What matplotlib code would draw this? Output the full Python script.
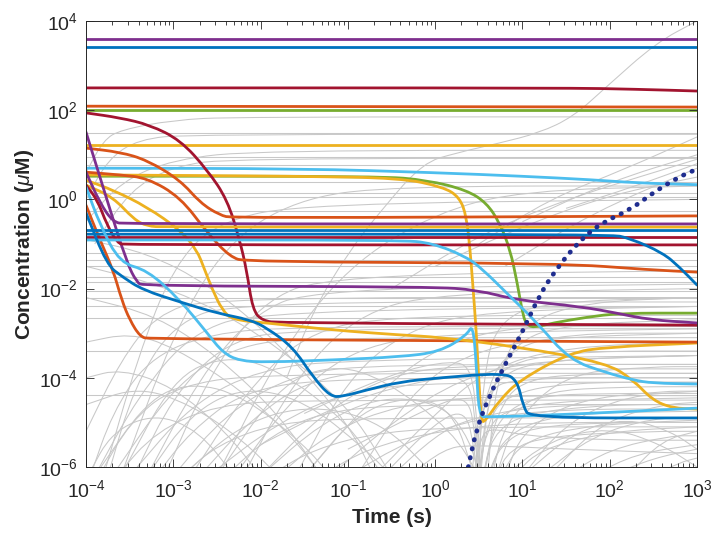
import matplotlib
matplotlib.use('Agg')
import matplotlib.pyplot as plt
import numpy as np
from matplotlib.path import Path
from matplotlib.patches import PathPatch

plt.rcParams['font.family'] = ['Liberation Sans', 'DejaVu Sans']
plt.rcParams['mathtext.fontset'] = 'custom'
plt.rcParams['mathtext.rm'] = 'Liberation Sans'
plt.rcParams['mathtext.it'] = 'Liberation Sans:italic'
plt.rcParams['mathtext.bf'] = 'Liberation Sans:bold'

# MATLAB default line colours
BLUE = '#0072BD'
ORANGE = '#D95319'
YELLOW = '#EDB120'
PURPLE = '#7E2F8E'
GREEN = '#77AC30'
LBLUE = '#4DBEEE'
DRED = '#A2142F'
GRAY = '#c8c8c8'
NAVY = '#1f2d8f'

# ---- highlighted species: (log10 t, log10 c) ----
purple_top = [(-4, 3.60), (3, 3.60)]
blue_top = [(-4, 3.42), (3, 3.42)]
dred_top = [(-4, 2.50), (1.5, 2.50), (2.3, 2.47), (3, 2.43)]
orange_top = [(-4, 2.09), (3, 2.07)]
green_top = [(-4, 2.00), (3, 2.00)]
yellow_top = [(-4, 1.22), (3, 1.22)]
lblue_hi = [(-4, 0.70), (-1.5, 0.69), (0, 0.60), (1, 0.52), (1.8, 0.44), (2.3, 0.37), (3, 0.33)]
green_drop = [(-4, 0.52), (-0.63, 0.52), (-0.09, 0.43), (0.36, 0.21), (0.59, -0.08), (0.74, -0.53),
              (0.86, -1.13), (0.94, -1.87), (1.01, -2.64), (1.05, -2.79), (1.12, -2.88), (1.35, -2.77),
              (1.74, -2.64), (2.12, -2.55), (3, -2.55)]
yellow_drop = [(-4, 0.55), (-1.55, 0.52), (-0.40, 0.48), (0.09, 0.28), (0.28, 0.05), (0.36, -0.39),
               (0.40, -1.13), (0.43, -1.87), (0.47, -2.93), (0.50, -4.05), (0.53, -4.98), (0.57, -4.98),
               (0.74, -4.50), (0.97, -4.05), (1.54, -3.44), (1.97, -3.31), (3, -3.22)]
dred_fall = [(-4, 1.94), (-3.61, 1.83), (-3.27, 1.67), (-2.92, 1.33), (-2.61, 0.66), (-2.38, -0.01),
             (-2.24, -0.91), (-2.16, -1.58), (-2.09, -2.48), (-1.98, -2.72), (-1.78, -2.77), (3, -2.82)]
orange_a = [(-4, 1.15), (-3.61, 1.06), (-3.30, 0.88), (-2.92, 0.43), (-2.69, -0.08), (-2.47, -0.35),
            (-2.32, -0.42), (3, -0.37)]
orange_b = [(-4, 0.61), (-3.61, 0.55), (-3.30, 0.48), (-2.92, 0.05), (-2.61, -0.75), (-2.35, -1.29),
            (-2.16, -1.40), (1.43, -1.43), (2.46, -1.58), (3, -1.63)]
orange_c = [(-4, -0.13), (-3.84, -0.91), (-3.69, -1.58), (-3.59, -2.26), (-3.50, -2.70), (-3.38, -3.08),
            (-3.27, -3.13), (3, -3.20)]
yellow_mid = [(-4, 0.32), (-3.69, 0.05), (-3.45, -0.45), (-3.3, -0.60), (-3.1, -0.62), (3, -0.62)]
yellow_low = [(-4, 0.43), (-3.69, 0.21), (-3.30, -0.17), (-2.92, -0.69), (-2.73, -1.13), (-2.64, -1.58),
              (-2.55, -2.03), (-2.44, -2.48), (-2.32, -2.70), (-1.93, -2.77), (-1.17, -2.93), (-0.40, -3.04),
              (0.05, -3.09), (0.97, -3.31), (1.97, -3.67), (2.27, -4.05), (2.49, -4.50), (2.72, -4.68),
              (3, -4.70)]
purple_a = [(-4, 0.61), (-3.84, -0.08), (-3.69, -0.51), (-3.55, -0.55), (3, -0.55)]
purple_b = [(-4, 1.51), (-3.76, -0.01), (-3.53, -1.43), (-3.42, -1.85), (-3.35, -1.94), (-0.03, -1.96),
            (0.48, -2.03), (0.94, -2.26), (1.69, -2.41), (2.08, -2.55), (2.46, -2.70), (3, -2.77)]
blue_flat = [(-4, -0.69), (3, -0.69)]
blue_bend = [(-4, -0.78), (2.0, -0.78), (2.23, -0.87), (2.61, -1.20), (2.80, -1.52), (3, -1.92)]
dred_mid = [(-4, -0.84), (3, -0.84)]
dred_low = [(-4, 0.32), (-3.87, -0.01), (-3.76, -0.57), (-3.64, -0.98), (-3.55, -1.02), (3, -1.02)]
lblue_flat = [(-4, -0.91), (-0.40, -0.91), (-0.03, -0.98), (0.36, -1.29), (0.55, -1.58), (0.82, -2.10),
              (1.17, -2.77), (1.54, -3.60), (1.97, -3.89), (2.27, -4.05), (2.49, -4.12), (3, -4.14)]
lblue_dip = [(-4, 0.28), (-3.84, -0.57), (-3.61, -1.43), (-3.30, -1.58), (-2.92, -2.26), (-2.61, -3.00),
             (-2.43, -3.44), (-2.24, -3.62), (-1.93, -3.65), (-1.17, -3.60), (-0.40, -3.53), (0.05, -3.42),
             (0.36, -3.05), (0.43, -2.80), (0.47, -3.60), (0.50, -4.86), (0.60, -4.88), (1.43, -4.83),
             (3, -4.68)]
blue_dip = [(-4, -0.30), (-3.76, -1.47), (-3.58, -1.74), (-3.35, -2.03), (-2.89, -2.32), (-2.50, -2.55),
            (-2.12, -2.70), (-1.93, -2.88), (-1.63, -3.31), (-1.40, -3.98), (-1.20, -4.42), (-1.06, -4.42),
            (-0.78, -4.27), (-0.40, -4.09), (0.05, -4.00), (0.78, -3.89), (0.94, -4.05), (1.01, -4.65),
            (1.09, -4.90), (3, -4.90)]
tracer = [(0.38, -6.0), (0.47, -5.17), (0.62, -4.41), (0.81, -3.67), (1.01, -2.93), (1.19, -2.17),
          (1.38, -1.58), (1.66, -0.91), (1.92, -0.51), (2.23, -0.24), (2.54, 0.21), (2.84, 0.55), (2.98, 0.66)]

# ---- background species (gray) ----
gray_flat = [1.49, 0.95, 0.78, 0.40, 0.15, 0.05, -0.25, -1.20, -1.35, -1.50, -1.75, -1.85, -2.05,
             -2.20, -2.40, -2.65, -3.40, -4.39]
gray_rise = [
    [(-4, 0.6), (-3.8, 1.33), (-3.6, 1.56), (-3.0, 1.78), (-2.3, 1.85), (3, 1.85)],
    [(-4, -0.5), (-3.6, 0.4), (-3.0, 0.9), (-2.0, 1.1), (3, 1.1)],
    [(-4, 0.0), (-3.75, 0.9), (-3.4, 1.35), (-2.8, 1.46), (3, 1.46)],
    [(-3.9, -1.0), (-3.5, 0.2), (-3.0, 0.75), (-2.3, 0.92), (3, 0.92)],
    [(-1.7, -4.0), (-1.4, -2.5), (-1.0, -1.2), (-0.6, -0.2), (-0.14, 0.82), (0.24, 1.04), (0.73, 1.26),
     (1.19, 1.49), (1.58, 1.85), (1.96, 2.52), (2.53, 3.51), (3, 4.0)],
    [(-3.8, -6.2), (-3.4, -3.5), (-3.0, -1.5), (-2.5, -0.5), (-1.5, -0.1), (3, 0.0)],
    [(-3.6, -6.2), (-3.0, -3.0), (-2.4, -1.0), (-1.6, 0.0), (-0.5, 0.3), (3, 0.3)],
    [(-2.5, -6.2), (-1.8, -3.5), (-1.0, -1.5), (0.0, -0.3), (1.0, 0.2), (3, 0.3)],
    [(0.5, -1.0), (1.3, 0.0), (2.2, 0.7), (3, 1.4)],
    [(1.0, -0.5), (2.0, 0.4), (3, 1.0)],
    [(0.8, -1.5), (1.8, -0.3), (3, 0.7)],
    [(-0.5, -2.0), (0.5, -0.8), (1.5, 0.0), (2.5, 0.6), (3, 0.9)],
    [(0.0, -1.5), (1.0, -0.6), (2.0, 0.1), (3, 0.5)],
    [(1.5, -0.2), (2.3, 0.3), (3, 0.8)],
    [(-4, -5.2), (-3.6, -3.6), (-3.2, -2.6), (-2.6, -2.2), (3, -2.2)],
    [(-3.95, -6.2), (-3.7, -4.8), (-3.3, -3.6), (-2.6, -3.0), (-1.5, -2.85), (3, -2.85)],
    [(-3.9, -6.2), (-3.4, -4.4), (-2.8, -3.0), (-2.0, -2.5), (3, -2.4)],
    [(-3.85, -6.2), (-3.5, -5.0), (-3.0, -4.2), (-2.0, -3.9), (3, -3.9)],
    [(-3.75, -6.2), (-3.45, -4.2), (-3.0, -2.8), (-2.3, -2.3), (3, -2.3)],
    [(-3.7, -6.2), (-3.0, -4.2), (-2.3, -3.3), (-1.5, -3.1), (3, -3.1)],
    [(-3.65, -6.2), (-3.2, -5.2), (-2.5, -4.6), (-1.5, -4.5), (3, -4.5)],
    [(-3.5, -6.2), (-2.8, -4.6), (-2.0, -3.8), (-1.0, -3.6), (3, -3.5)],
    [(-3.45, -6.2), (-3.0, -4.4), (-2.4, -3.2), (-1.6, -2.9), (3, -2.9)],
    [(-3.3, -6.2), (-2.7, -4.0), (-2.1, -2.6), (-1.4, -2.0), (3, -1.9)],
    [(-3.2, -6.2), (-2.8, -5.2), (-2.2, -4.3), (-1.2, -4.0), (3, -4.0)],
    [(-3.1, -6.2), (-2.6, -4.0), (-2.0, -2.3), (-1.2, -1.7), (3, -1.6)],
    [(-3.0, -6.2), (-2.4, -4.8), (-1.6, -3.9), (-0.6, -3.7), (3, -3.7)],
    [(-2.9, -6.2), (-2.5, -5.5), (-1.8, -5.0), (-0.8, -4.9), (3, -4.9)],
    [(-2.8, -6.2), (-2.2, -4.4), (-1.5, -3.0), (-0.5, -2.6), (3, -2.6)],
    [(-2.7, -6.2), (-2.1, -4.9), (-1.4, -4.0), (-0.4, -3.8), (3, -3.8)],
    [(-2.6, -6.2), (-1.8, -5.0), (-1.0, -4.3), (0.0, -4.1), (3, -4.1)],
    [(-2.4, -6.2), (-1.9, -5.3), (-1.2, -4.7), (0.0, -4.6), (3, -4.6)],
    [(-2.3, -6.2), (-1.7, -4.6), (-1.0, -3.4), (0.0, -3.0), (3, -2.9)],
    [(-2.2, -6.2), (-1.6, -4.0), (-0.9, -2.6), (0.0, -2.1), (3, -2.0)],
    [(-2.0, -6.2), (-1.3, -4.8), (-0.5, -3.9), (0.5, -3.7), (3, -3.7)],
    [(-1.9, -6.2), (-1.4, -5.6), (-0.6, -5.2), (0.5, -5.1), (3, -5.1)],
    [(-1.8, -6.2), (-1.2, -5.2), (-0.4, -4.6), (0.6, -4.4), (3, -4.4)],
    [(-1.6, -6.2), (-1.0, -4.0), (-0.3, -2.9), (0.6, -2.5), (3, -2.4)],
    [(-1.5, -6.2), (-0.8, -4.6), (0.0, -3.3), (1.0, -2.8), (3, -2.8)],
    [(-1.3, -6.2), (-0.8, -5.6), (0.0, -5.2), (1.0, -5.0), (3, -5.0)],
    [(-1.2, -6.2), (-0.5, -5.0), (0.3, -4.0), (1.2, -3.6), (3, -3.5)],
    [(-1.0, -6.2), (-0.3, -5.4), (0.5, -4.9), (1.5, -4.7), (3, -4.7)],
    [(-0.9, -6.2), (-0.3, -4.4), (0.3, -3.5), (1.2, -3.1), (3, -3.0)],
    [(-0.7, -6.2), (0.0, -4.8), (0.6, -3.8), (1.5, -3.3), (3, -3.2)],
    [(-0.5, -6.2), (0.0, -5.3), (0.4, -4.9), (1.3, -4.6), (3, -4.6)],
    [(-0.3, -6.2), (0.1, -5.6), (0.4, -5.5), (1.5, -5.6), (3, -5.7)],
    [(0.42, -6.2), (0.48, -5.0), (0.6, -4.3), (0.9, -4.0), (3, -4.0)],
    [(0.45, -6.2), (0.52, -4.8), (0.7, -4.0), (1.2, -3.6), (3, -3.5)],
    [(0.45, -6.2), (0.5, -5.5), (0.6, -5.1), (1.0, -5.3), (2.0, -5.4), (3, -5.4)],
    [(0.48, -6.2), (0.55, -4.5), (0.8, -3.4), (1.5, -3.0), (3, -3.0)],
    [(0.5, -6.2), (0.6, -5.0), (0.8, -4.4), (1.5, -4.1), (3, -4.1)],
    [(0.5, -6.2), (0.6, -4.5), (0.9, -3.2), (1.5, -2.8), (3, -2.7)],
    [(0.5, -6.2), (0.55, -4.0), (0.7, -2.8), (1.2, -2.3), (3, -2.2)],
    [(0.5, -6.2), (0.58, -5.2), (0.8, -4.7), (1.6, -4.5), (3, -4.45)],
    [(0.52, -6.2), (0.62, -4.2), (0.9, -3.6), (1.8, -3.4), (3, -3.4)],
    [(0.55, -6.2), (0.65, -5.3), (1.0, -4.8), (2.0, -4.6), (3, -4.6)],
    [(0.55, -6.2), (0.7, -4.8), (1.0, -4.0), (2.0, -3.9), (3, -3.9)],
    [(0.56, -6.2), (0.68, -5.0), (1.1, -4.4), (2.0, -4.35), (3, -4.35)],
    [(0.6, -6.2), (0.75, -5.5), (1.1, -5.1), (2.0, -5.0), (3, -5.0)],
    [(0.6, -6.2), (0.7, -4.0), (1.0, -2.8), (1.7, -2.3), (3, -2.2)],
    [(0.62, -6.2), (0.78, -5.3), (1.4, -4.8), (3, -4.75)],
    [(0.65, -6.2), (0.8, -5.0), (1.2, -4.3), (2.2, -4.2), (3, -4.2)],
    [(0.7, -6.2), (0.85, -5.6), (1.3, -5.3), (2.5, -5.2), (3, -5.2)],
    [(0.7, -6.2), (0.9, -5.0), (1.5, -3.9), (2.5, -3.75), (3, -3.75)],
    [(0.75, -6.2), (1.0, -5.4), (1.8, -5.05), (3, -4.95)],
    [(0.8, -6.2), (1.0, -5.2), (1.6, -4.5), (2.6, -4.3), (3, -4.3)],
    [(0.9, -6.2), (1.2, -5.6), (2.0, -5.2), (3, -5.1)],
    [(1.0, -6.2), (1.5, -5.0), (2.2, -4.4), (3, -4.3)],
    [(1.2, -6.2), (1.8, -5.3), (2.5, -4.9), (3, -4.9)],
    [(1.3, -6.2), (1.9, -5.0), (2.6, -4.6), (3, -4.55)],
    [(1.5, -6.2), (2.0, -5.6), (2.7, -5.3), (3, -5.3)],
    [(1.8, -6.2), (2.3, -5.7), (3, -5.5)],
    [(2.0, -6.2), (2.5, -5.8), (3, -5.6)],
    [(2.2, -6.2), (2.6, -5.4), (3, -5.2)],
    [(2.5, -6.2), (2.8, -5.9), (3, -5.8)],
]
gray_arcs = [
    [(-3.98, -6.2), (-3.7, -5.2), (-3.2, -4.8), (-2.7, -5.2), (-2.3, -6.2)],
    [(-3.9, -6.2), (-3.3, -4.5), (-2.8, -4.1), (-2.2, -4.4), (-1.5, -5.5), (-1.2, -6.2)],
    [(-3.6, -6.2), (-3.0, -4.0), (-2.4, -3.5), (-1.8, -3.8), (-1.0, -5.0), (-0.6, -6.2)],
    [(-3.3, -6.2), (-2.8, -4.8), (-2.2, -4.2), (-1.5, -4.5), (-0.8, -5.6), (-0.5, -6.2)],
    [(-2.9, -6.2), (-2.2, -5.0), (-1.4, -4.6), (-0.6, -5.0), (0.0, -6.2)],
    [(-2.5, -6.2), (-1.8, -4.2), (-1.2, -3.7), (-0.6, -4.0), (0.2, -5.2), (0.5, -6.2)],
    [(-2.0, -6.2), (-1.3, -5.0), (-0.6, -4.4), (0.1, -4.6), (0.4, -5.4), (0.5, -6.2)],
    [(-1.5, -6.2), (-0.9, -4.8), (-0.3, -4.4), (0.2, -4.7), (0.45, -6.2)],
    [(-4, -4.6), (-3.4, -4.2), (-2.8, -4.6), (-2.2, -5.4), (-1.8, -6.2)],
    [(-4, -4.0), (-3.6, -3.8), (-3.0, -4.2), (-2.4, -5.2), (-2.0, -6.2)],
    [(-4, -3.2), (-3.5, -3.0), (-3.0, -3.3), (-2.2, -4.3), (-1.6, -5.4), (-1.3, -6.2)],
    [(-4, -2.2), (-3.2, -2.6), (-2.5, -3.5), (-1.8, -4.8), (-1.3, -6.2)],
    [(-4, -1.5), (-3.0, -2.0), (-2.0, -3.0), (-1.0, -4.6), (-0.5, -6.2)],
    [(-4, -0.9), (-3.3, -1.2), (-2.6, -1.9), (-1.8, -3.2), (-1.0, -5.0), (-0.7, -6.2)],
    [(-1.5, -4.8), (-0.5, -3.9), (0.2, -3.6), (0.42, -3.8), (0.48, -5.0), (0.52, -6.2)],
    [(-2.0, -5.5), (-1.0, -4.5), (0.0, -4.0), (0.4, -4.0), (0.47, -5.2), (0.5, -6.2)],
    [(-1.0, -5.6), (0.0, -4.6), (0.38, -4.4), (0.46, -5.3), (0.49, -6.2)],
    [(-0.6, -6.2), (0.0, -5.0), (0.35, -4.7), (0.45, -5.6), (0.48, -6.2)],
    [(1.0, -6.2), (1.6, -5.2), (2.2, -4.9), (2.7, -5.2), (3, -5.6)],
    [(0.8, -6.2), (1.3, -5.4), (2.0, -5.1), (2.6, -5.5), (3, -6.0)],
]

x_ticks = [1e-4, 1e-3, 1e-2, 1e-1, 1e0, 1e1, 1e2, 1e3]
y_ticks = [1e-6, 1e-4, 1e-2, 1e0, 1e2, 1e4]


def draw(ax, pts, **kw):
    # keypoints joined by quadratic Bezier segments (rounded corners)
    p = [(float(a), float(b)) for a, b in pts]
    if len(p) == 2:
        verts, codes = p, [Path.MOVETO, Path.LINETO]
    else:
        mids = [((p[i][0] + p[i + 1][0]) / 2, (p[i][1] + p[i + 1][1]) / 2) for i in range(len(p) - 1)]
        verts, codes = [p[0], mids[0]], [Path.MOVETO, Path.LINETO]
        for i in range(1, len(p) - 1):
            verts += [p[i], mids[i]]
            codes += [Path.CURVE3, Path.CURVE3]
        verts.append(p[-1])
        codes.append(Path.LINETO)
    verts = [(10.0 ** a, 10.0 ** b) for a, b in verts]
    ax.add_patch(PathPatch(Path(verts, codes), fill=False, **kw))


fig = plt.figure(figsize=(7.16, 5.33), dpi=100)
ax = fig.add_axes([86 / 716, 1 - 467 / 533, 611 / 716, 446 / 533])
ax.set_xscale('log')
ax.set_yscale('log')
ax.set_xlim(1e-4, 1e3)
ax.set_ylim(1e-6, 1e4)

for lev in gray_flat:
    draw(ax, [(-4, lev), (3, lev)], edgecolor=GRAY, lw=0.75)
for pts in gray_rise + gray_arcs:
    draw(ax, pts, edgecolor=GRAY, lw=0.75)

colored = [
    (purple_top, PURPLE), (blue_top, BLUE), (dred_top, DRED), (orange_top, ORANGE),
    (green_top, GREEN), (yellow_top, YELLOW), (lblue_hi, LBLUE), (green_drop, GREEN),
    (yellow_drop, YELLOW), (dred_fall, DRED), (orange_a, ORANGE), (orange_b, ORANGE),
    (orange_c, ORANGE), (yellow_mid, YELLOW), (yellow_low, YELLOW), (purple_a, PURPLE),
    (purple_b, PURPLE), (dred_mid, DRED), (dred_low, DRED), (blue_flat, BLUE), (blue_bend, BLUE),
    (lblue_flat, LBLUE), (lblue_dip, LBLUE), (blue_dip, BLUE),
]
for pts, col in colored:
    draw(ax, pts, edgecolor=col, lw=2.0, capstyle='round', joinstyle='round')

draw(ax, tracer, edgecolor=NAVY, lw=3.4, linestyle=(0, (0.1, 1.85)), capstyle='round')

ax.set_xticks(x_ticks)
ax.set_yticks(y_ticks)
ax.yaxis.set_minor_locator(matplotlib.ticker.NullLocator())
ax.xaxis.set_minor_locator(matplotlib.ticker.LogLocator(base=10, subs=np.arange(2, 10), numticks=20))
ax.xaxis.set_minor_formatter(matplotlib.ticker.NullFormatter())
ax.set_xlim(1e-4, 1e3)
ax.set_ylim(1e-6, 1e4)
ax.tick_params(which='both', direction='in', top=True, right=True, colors='#262626',
               labelsize=14, width=0.6)
ax.tick_params(which='major', length=6)
ax.tick_params(which='minor', length=3)
ax.tick_params(axis='x', pad=9)
ax.tick_params(axis='y', pad=6)
for sp in ax.spines.values():
    sp.set_color('#262626')
    sp.set_linewidth(0.7)

ax.set_xlabel('Time (s)', fontsize=15, fontweight='bold', color='#262626', labelpad=5)
ax.set_ylabel(r'Concentration ($\mathit{\mu}$M)', fontsize=15, fontweight='bold', color='#262626', labelpad=2)

fig.savefig('out.png', dpi=100)
